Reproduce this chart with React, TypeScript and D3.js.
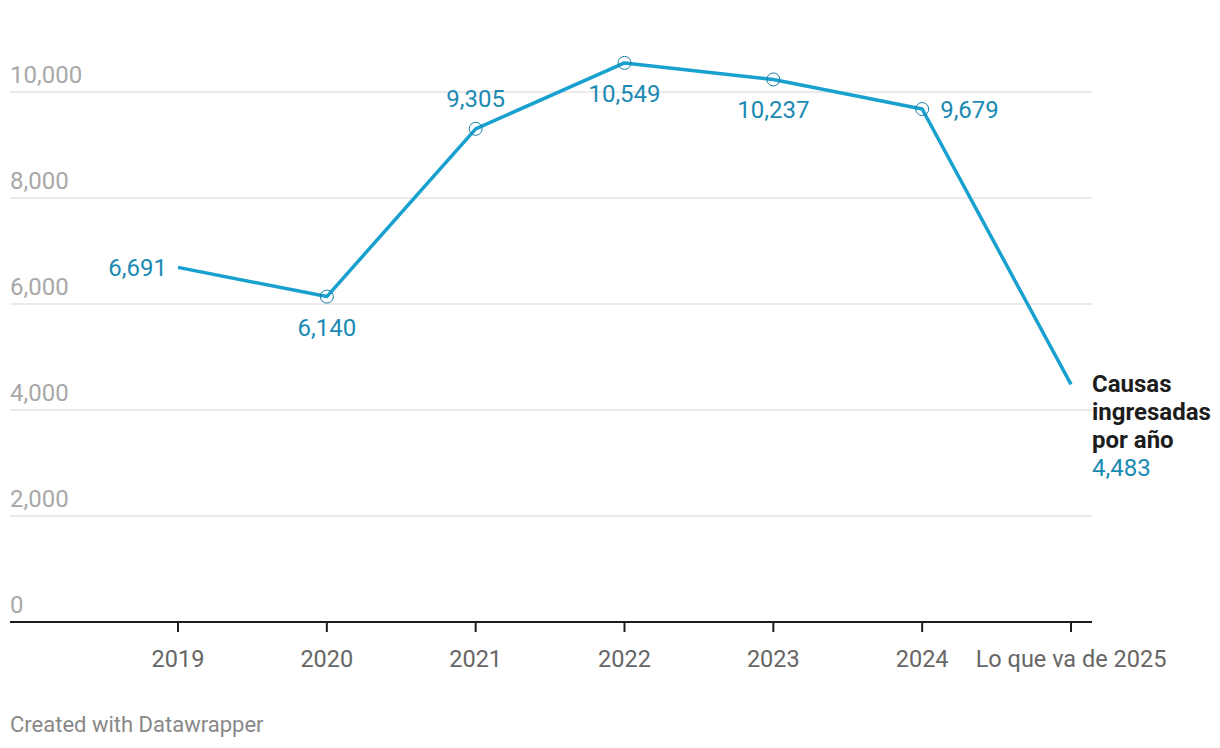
import React from "react";
import * as d3 from "d3";

const categories = ["2019", "2020", "2021", "2022", "2023", "2024", "Lo que va de 2025"];
const values = [6691, 6140, 9305, 10549, 10237, 9679, 4483];
const yTicks = [0, 2000, 4000, 6000, 8000, 10000];
const labelPos = ["left", "below", "above", "below", "below", "right", "none"];
const seriesLabel = ["Causas", "ingresadas", "por año"];

const W = 1220;
const H = 748;
const FONT = "Roboto, 'Noto Sans', sans-serif";

export default function App() {
  const x = d3.scalePoint<string>().domain(categories).range([178, 1071]);
  const y = d3.scaleLinear().domain([0, 10000]).range([622, 92]);
  const fmt = d3.format(",");
  const line = d3
    .line<number>()
    .x((_, i) => x(categories[i]) as number)
    .y((d) => y(d));
  const lineColor = "#18a0cf";
  const valColor = "#1a8ab3";
  const lastX = x(categories[categories.length - 1]) as number;

  return (
    <svg
      width={W}
      height={H}
      style={{ position: "absolute", left: 0, top: 0 }}
      fontFamily={FONT}
    >
      <rect width={W} height={H} fill="#fff" />
      {yTicks.map((t) => (
        <g key={t}>
          {t > 0 && <line x1={10} x2={1092} y1={y(t)} y2={y(t)} stroke="#e3e3e3" strokeWidth={1.5} />}
          <text x={10} y={y(t) - 9} fontSize={24} fill="#a8a8a8">
            {fmt(t)}
          </text>
        </g>
      ))}
      <line x1={10} x2={1092} y1={y(0)} y2={y(0)} stroke="#1d1d1d" strokeWidth={2} />
      {categories.map((c) => (
        <g key={c}>
          <line x1={x(c)} x2={x(c)} y1={y(0)} y2={y(0) + 10} stroke="#1d1d1d" strokeWidth={2} />
          <text x={x(c)} y={667} fontSize={23.5} fill="#666" textAnchor="middle">
            {c}
          </text>
        </g>
      ))}
      <path d={line(values) || ""} fill="none" stroke={lineColor} strokeWidth={3.5} strokeLinejoin="round" />
      {values.map((v, i) => {
        const cx = x(categories[i]) as number;
        const cy = y(v);
        const pos = labelPos[i];
        const showDot = i > 0 && i < values.length - 1;
        let tx = cx, ty = cy, anchor: "start" | "middle" | "end" = "middle";
        if (pos === "left") { tx = cx - 11; ty = cy + 9; anchor = "end"; }
        else if (pos === "right") { tx = cx + 18; ty = cy + 9; anchor = "start"; }
        else if (pos === "above") { tx = cx; ty = cy - 22; }
        else if (pos === "below") { tx = cx; ty = cy + 39; }
        return (
          <g key={i}>
            {showDot && <circle cx={cx} cy={cy} r={6.5} fill="none" stroke="#1a7fa6" strokeWidth={1} />}
            {pos !== "none" && (
              <text x={tx} y={ty} fontSize={24} fill={valColor} textAnchor={anchor}>
                {fmt(v)}
              </text>
            )}
          </g>
        );
      })}
      <g>
        {seriesLabel.map((s, k) => (
          <text key={s} x={lastX + 21} y={392 + k * 28} fontSize={24} fontWeight="bold" fill="#1d1d1d">
            {s}
          </text>
        ))}
        <text x={lastX + 21} y={392 + 3 * 28} fontSize={24} fill={valColor}>
          {fmt(values[values.length - 1])}
        </text>
      </g>
      <text x={10} y={732} fontSize={22} fill="#888">
        Created with Datawrapper
      </text>
    </svg>
  );
}
